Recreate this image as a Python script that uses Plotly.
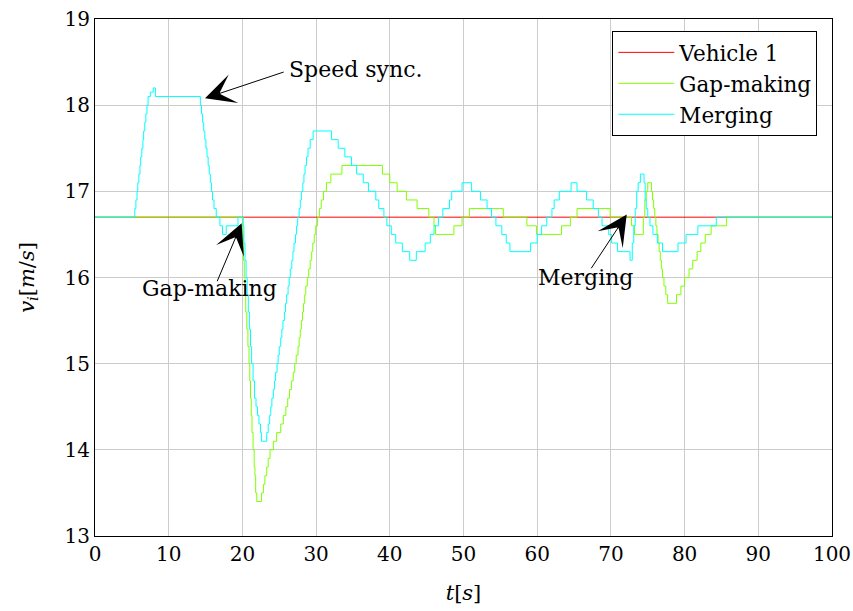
import plotly.graph_objects as go

# ---------------- data ----------------
VEH1_T = [0, 100]
VEH1_V = [16.7, 16.7]

GAP_T = [0, 20.05, 20.15, 20.25, 20.35, 20.45, 20.6, 20.75, 20.9, 21.0, 21.1, 21.2, 21.3,
         21.45, 21.6, 21.7, 21.8, 21.95, 22.6, 22.85, 23.05, 23.3, 23.5, 23.75, 24.2, 24.65,
         25.2, 25.55, 25.9, 26.15, 26.4, 26.65, 26.9, 27.1, 27.3, 27.55, 27.7, 27.85, 28.0,
         28.15, 28.3, 28.45, 28.6, 28.8, 29.0, 29.2, 29.4, 29.55, 29.75, 29.95, 30.2, 30.45,
         30.7, 31.0, 31.4, 32.0, 33.5, 39.0, 40.0, 41.0, 42.25, 43.7, 45.3, 46.0, 46.2, 48.7,
         49.8, 50.8, 55.4, 58.6, 59.9, 63.3, 64.5, 65.4, 69.9, 72.8, 73.2, 74.4, 74.6, 74.8,
         75.0, 75.5, 75.65, 75.8, 75.95, 76.1, 76.25, 76.4, 76.55, 76.7, 76.85, 77.0, 77.2,
         77.45, 77.7, 78.9, 79.5, 80.0, 80.6, 81.1, 81.7, 82.2, 82.8, 83.6, 85.7, 100]
GAP_V = [16.7, 16.5, 16.2, 16.0, 15.8, 15.6, 15.4, 15.2, 15.0, 14.8, 14.6, 14.4, 14.2,
         14.0, 13.8, 13.7, 13.5, 13.4, 13.5, 13.6, 13.7, 13.8, 13.9, 14.0, 14.1, 14.2,
         14.3, 14.4, 14.5, 14.6, 14.7, 14.8, 14.9, 15.0, 15.1, 15.2, 15.3, 15.4, 15.5,
         15.6, 15.7, 15.8, 15.9, 16.0, 16.1, 16.2, 16.3, 16.4, 16.5, 16.6, 16.7, 16.8,
         16.9, 17.0, 17.1, 17.2, 17.3, 17.2, 17.1, 17.0, 16.9, 16.8, 16.7, 16.6, 16.5, 16.6,
         16.7, 16.8, 16.7, 16.6, 16.5, 16.6, 16.7, 16.8, 16.7, 16.6, 16.5, 16.7, 16.9, 17.0,
         17.1, 17.0, 16.9, 16.8, 16.7, 16.6, 16.5, 16.4, 16.3, 16.2, 16.1, 16.0, 15.9,
         15.8, 15.7, 15.8, 15.9, 16.0, 16.1, 16.2, 16.3, 16.4, 16.5, 16.6, 16.7, 16.7]

MERGE_T = [0, 5.4, 5.55, 5.7, 5.8, 5.95, 6.1, 6.2, 6.35, 6.5, 6.6, 6.75, 6.9, 7.05, 7.2,
           7.5, 7.9, 8.2, 14.3, 14.45, 14.6, 14.75, 14.9, 15.05, 15.2, 15.35, 15.5, 15.65,
           15.8, 15.95, 16.15, 16.45, 16.95, 17.3, 17.8, 19.4, 20.1, 20.2, 20.35, 20.5,
           20.65, 20.8, 20.95, 21.1, 21.25, 21.45, 21.65, 21.85, 22.05, 22.25, 22.45, 22.6,
           23.3, 23.5, 23.7, 23.85, 24.0, 24.2, 24.35, 24.5, 24.7, 24.85, 25.0, 25.2, 25.35,
           25.5, 25.7, 25.85, 26.0, 26.2, 26.35, 26.5, 26.7, 26.85, 27.0, 27.2, 27.35, 27.5,
           27.7, 27.85, 28.0, 28.2, 28.35, 28.5, 28.7, 28.9, 29.2, 29.6, 32.1, 33.0, 33.9,
           34.8, 35.5, 36.4, 37.1, 38.1, 38.5, 39.2, 39.6, 40.2, 40.8, 41.7, 42.7, 43.6,
           44.8, 45.5, 46.0, 46.6, 47.2, 48.1, 48.4, 49.8, 51.1, 52.3, 53.2, 53.8, 54.4,
           55.2, 55.8, 56.3, 59.1, 60.0, 60.6, 61.3, 62.0, 62.3, 63.0, 64.6, 65.4, 66.7,
           67.6, 68.3, 68.8, 69.7, 70.1, 70.9, 72.6, 72.9, 73.1, 73.3, 73.5, 73.7, 74.0,
           74.5, 74.65, 74.8, 75.0, 75.3, 75.7, 76.3, 77.0, 79.1, 80.2, 81.8, 84.3, 100]
MERGE_V = [16.7, 16.8, 16.9, 17.0, 17.1, 17.2, 17.3, 17.4, 17.5, 17.6, 17.7, 17.8, 17.9, 18.0, 18.1,
           18.15, 18.2, 18.1, 18.0, 17.9, 17.8, 17.7, 17.6, 17.5, 17.4, 17.3, 17.2, 17.1,
           17.0, 16.9, 16.8, 16.7, 16.6, 16.5, 16.6, 16.7, 16.6, 16.4, 16.2, 16.0,
           15.8, 15.6, 15.4, 15.2, 15.0, 14.8, 14.6, 14.5, 14.4, 14.3, 14.2, 14.1,
           14.2, 14.3, 14.4, 14.5, 14.6, 14.7, 14.8, 14.9, 15.0, 15.1, 15.2, 15.3, 15.4,
           15.5, 15.6, 15.7, 15.8, 15.9, 16.0, 16.1, 16.2, 16.3, 16.4, 16.5, 16.6, 16.7,
           16.8, 16.9, 17.0, 17.1, 17.2, 17.3, 17.4, 17.5, 17.6, 17.7, 17.6, 17.5, 17.4,
           17.3, 17.2, 17.1, 17.0, 16.9, 16.8, 16.7, 16.6, 16.5, 16.4, 16.3, 16.2, 16.3,
           16.4, 16.5, 16.6, 16.7, 16.8, 16.9, 17.0, 17.1, 17.0, 16.9, 16.8, 16.7, 16.6,
           16.5, 16.4, 16.3, 16.4, 16.5, 16.6, 16.7, 16.8, 16.9, 17.0, 17.1, 17.0, 16.9,
           16.8, 16.7, 16.6, 16.5, 16.4, 16.3, 16.2, 16.4, 16.6, 16.8, 17.0, 17.1, 17.2,
           17.1, 16.9, 16.8, 16.7, 16.6, 16.5, 16.4, 16.3, 16.4, 16.5, 16.6, 16.7, 16.7]

X_TICKS = [0, 10, 20, 30, 40, 50, 60, 70, 80, 90, 100]
Y_TICKS = [13, 14, 15, 16, 17, 18, 19]

# arrows: (arrow tip t, arrow tip v, arrow tail t, arrow tail v)
ARROWS = [
    (14.93, 18.08, 25.8, 18.39),
    (19.9, 16.63, 16.5, 15.94),
    (72.15, 16.73, 67.2, 16.09),
]
# labels: (text, centre t, centre v)
LABELS = [
    ("Speed sync.", 35.35, 18.41),
    ("Gap-making", 15.6, 15.87),
    ("Merging", 66.6, 16.0),
]

FONT = "DejaVu Serif, serif"

fig = go.Figure()
fig.add_trace(go.Scatter(x=VEH1_T, y=VEH1_V, mode="lines", name="Vehicle 1",
                         line=dict(color="#ff0000", width=1)))
fig.add_trace(go.Scatter(x=GAP_T, y=GAP_V, mode="lines", name="Gap-making",
                         line=dict(color="#80ff00", width=1, shape="hv")))
fig.add_trace(go.Scatter(x=MERGE_T, y=MERGE_V, mode="lines", name="Merging",
                         line=dict(color="#00ffff", width=1, shape="hv")))

for tx, ty, ax, ay in ARROWS:
    fig.add_annotation(x=tx, y=ty, ax=ax, ay=ay, xref="x", yref="y", axref="x", ayref="y",
                       text="", showarrow=True, arrowhead=3, arrowsize=5,
                       arrowwidth=1, arrowcolor="black", standoff=0)
for txt, lx, ly in LABELS:
    fig.add_annotation(x=lx, y=ly, xref="x", yref="y", text=txt, showarrow=False,
                       xanchor="center", yanchor="middle",
                       font=dict(family=FONT, size=22, color="black"))

axis_common = dict(showgrid=True, gridcolor="#cccccc", gridwidth=1,
                   showline=True, linecolor="black", linewidth=1, mirror=True,
                   ticks="", zeroline=False, automargin=False,
                   tickfont=dict(family=FONT, size=20, color="black"))
fig.update_xaxes(range=[0, 100], tickvals=X_TICKS,
                 title=dict(text="<i>t</i>[<i>s</i>]",
                            font=dict(family=FONT, size=21, color="black"), standoff=20),
                 **axis_common)
fig.update_yaxes(range=[13, 19], tickvals=Y_TICKS,
                 title=dict(text="<i>v</i><sub><i>i</i></sub>[<i>m</i>/<i>s</i>]",
                            font=dict(family=FONT, size=21, color="black"), standoff=24),
                 **axis_common)

fig.update_layout(
    width=853, height=611,
    margin=dict(l=95, r=21, t=19, b=75),
    plot_bgcolor="white", paper_bgcolor="white",
    showlegend=True,
    legend=dict(x=0.702, y=0.977, xanchor="left", yanchor="top",
                bgcolor="white", bordercolor="black", borderwidth=1,
                font=dict(family=FONT, size=21.5, color="black"),
                tracegroupgap=0, itemwidth=56),
)

fig.write_html("out.html")
